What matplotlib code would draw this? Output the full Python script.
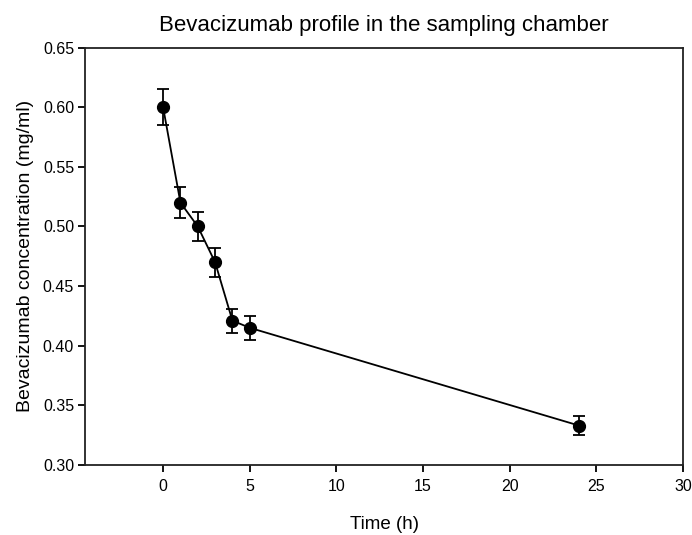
import matplotlib.pyplot as plt

plt.rcParams['font.family'] = ['Liberation Sans', 'DejaVu Sans']

time_h = [0, 1, 2, 3, 4, 5, 24]
conc = [0.600, 0.520, 0.500, 0.470, 0.421, 0.415, 0.333]
err = [0.015, 0.013, 0.012, 0.012, 0.010, 0.010, 0.008]

fig = plt.figure(figsize=(6.92, 5.35), dpi=100)
ax = fig.add_axes([0.123, 0.131, 0.864, 0.780])

ax.errorbar(time_h, conc, yerr=err, fmt='o-', color='black', ms=8.5, lw=1.3,
            elinewidth=1.3, capsize=4.5, capthick=1.3)

ax.set_xlim(-4.5, 30)
ax.set_ylim(0.30, 0.65)
ax.set_xticks([0, 5, 10, 15, 20, 25, 30])
ax.set_yticks([0.30, 0.35, 0.40, 0.45, 0.50, 0.55, 0.60, 0.65])
ax.set_yticklabels(['0.30', '0.35', '0.40', '0.45', '0.50', '0.55', '0.60', '0.65'])
ax.tick_params(axis='x', labelsize=11.5, length=5, width=1.3, pad=5)
ax.tick_params(axis='y', labelsize=11.5, length=5, width=1.3, pad=3)
for s in ax.spines.values():
    s.set_linewidth(1.3)
    s.set_color('#222222')

ax.set_xlabel('Time (h)', fontsize=13.5, labelpad=16)
ax.set_ylabel('Bevacizumab concentration (mg/ml)', fontsize=14, labelpad=6)
ax.set_title('Bevacizumab profile in the sampling chamber', fontsize=16, pad=12)

plt.savefig('out.png', dpi=100)
